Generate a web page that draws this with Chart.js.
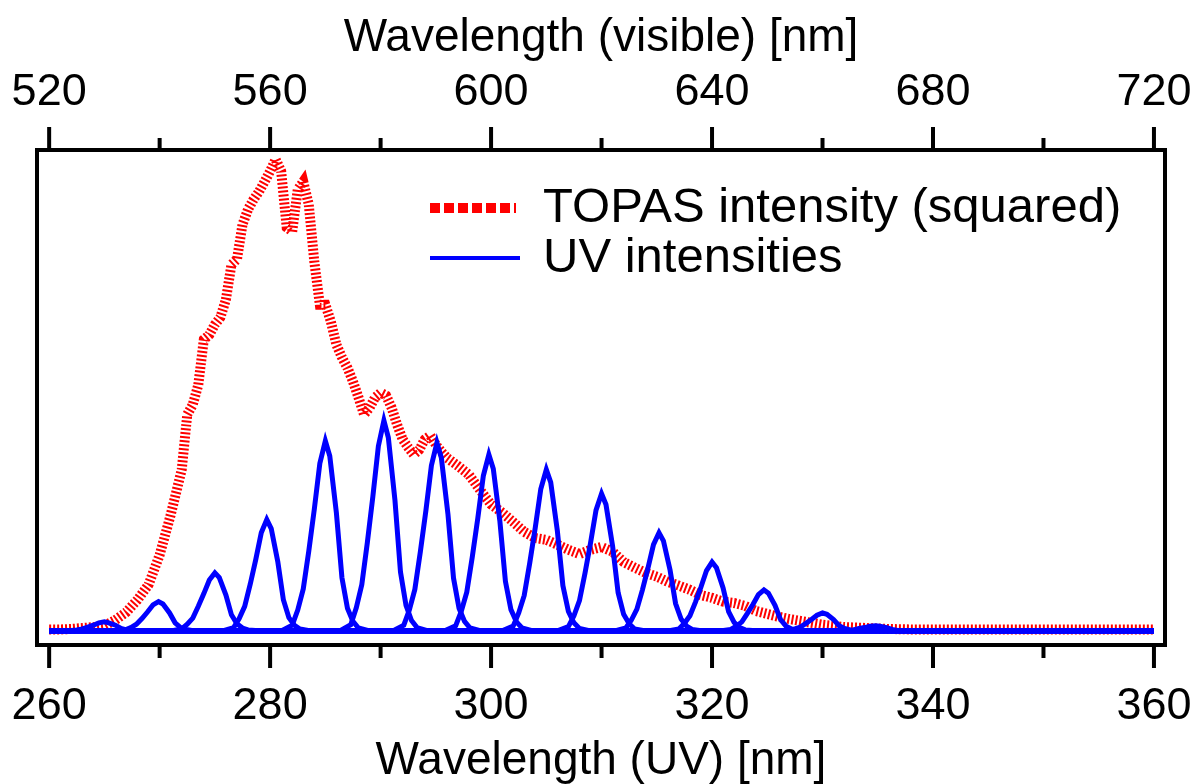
<!DOCTYPE html>
<html>
<head>
<meta charset="utf-8">
<script src="https://cdn.jsdelivr.net/npm/chart.js@4.4.0/dist/chart.umd.min.js"></script>
<style>
  html, body { margin: 0; padding: 0; background: #fff; }
  #wrap { width: 1196px; height: 784px; }
</style>
</head>
<body>
<div id="wrap"><canvas id="chart" width="1196" height="784"></canvas></div>
<script>
// axis ticks
const uvMajor = [260, 280, 300, 320, 340, 360];
const uvMinor = [270, 290, 310, 330, 350];
const visMajor = [520, 560, 600, 640, 680, 720];
const visMinor = [540, 580, 620, 660, 700];

// TOPAS spectrum (squared), arbitrary units, peak = 100
const topasWl = [260, 261, 262, 263, 264, 265, 266, 267, 268, 269, 270, 271, 272,
  272.5, 273, 273.5, 274, 274.5, 275, 275.5, 276, 276.5, 277, 277.5, 278, 278.5, 279, 279.5,
  280, 280.5, 281, 281.5, 282, 282.5, 283, 283.5, 284, 284.5, 285, 285.5, 286, 286.5, 287, 287.5,
  288, 288.5, 289, 289.5, 290, 290.5, 291, 291.5, 292, 292.5, 293, 293.5, 294, 294.5, 295, 295.5,
  296, 297, 298, 299, 300, 301, 302, 303, 304, 305, 306, 307, 308, 309, 310, 311, 312, 313, 314, 315,
  316, 317, 318, 319, 320, 321, 322, 323, 324, 325, 326, 327, 328, 329, 330,
  332, 334, 336, 338, 340, 344, 348, 352, 356, 360];
const topasVal = [0.3, 0.3, 0.4, 0.6, 0.8, 1.1, 2.3, 4.0, 6.6, 9.8, 16.1, 24.6, 34.2,
  45.9, 48.0, 52.2, 61.8, 62.8, 65.0, 66.5, 70.3, 77.7, 78.8, 86.2, 89.4, 91.5, 93.2, 95.3,
  97.5, 100, 97.5, 85.6, 84.7, 93.6, 95.3, 90.4, 78.3, 69.2, 69.2, 65.6, 60.7, 58.0, 55.8, 52.9,
  49.5, 45.9, 47.3, 49.5, 50.5, 49.9, 47.3, 43.7, 40.6, 38.9, 37.4, 38.4, 40.6, 41.4, 39.5, 38.0,
  36.7, 35.0, 33.1, 29.9, 26.8, 25.1, 23.1, 21.0, 19.7, 19.3, 18.3, 17.2, 16.3, 17.2, 17.8, 16.8, 14.6, 13.4, 12.3, 11.5,
  10.4, 9.6, 8.7, 7.6, 7.0, 6.2, 5.9, 5.3, 4.2, 3.6, 3.0, 2.5, 2.1, 1.7, 1.3,
  0.8, 0.6, 0.4, 0.3, 0.3, 0.3, 0.3, 0.3, 0.3, 0.3];

// UV spectra: peak centres and samples at fixed offsets (nm) around each centre
const uvCenters = [265, 269.9, 275, 279.7, 285, 290.3, 295.1, 299.8, 305, 310, 315.2, 320, 324.7, 330, 334.8];
const uvOffsets = [-4, -3, -2.5, -2, -1.5, -1, -0.5, 0, 0.4, 1, 1.5, 2, 2.5, 3, 4];
const uvPeaks = [
  [0, 0.1, 0.2, 0.4, 0.8, 1.2, 1.7, 1.9, 1.7, 1.2, 0.5, 0.2, 0.1, 0.0, 0],
  [0, 0.2, 0.7, 1.4, 2.6, 4.0, 5.5, 6.2, 5.7, 3.8, 1.7, 0.7, 0.3, 0.1, 0],
  [0, 0.4, 1.4, 2.7, 5.2, 7.9, 10.8, 12.3, 11.3, 7.6, 3.4, 1.5, 0.6, 0.2, 0],
  [0, 0.7, 2.6, 5.2, 9.9, 15.1, 20.8, 23.6, 21.7, 14.6, 6.6, 2.8, 1.2, 0.4, 0],
  [0, 1.2, 4.4, 8.9, 16.9, 25.8, 35.5, 40.3, 37.1, 25.0, 11.3, 4.8, 2.0, 0.6, 0],
  [0, 1.3, 4.9, 9.8, 18.7, 28.5, 39.2, 44.6, 41.0, 27.7, 12.5, 5.4, 2.2, 0.7, 0],
  [0, 1.2, 4.4, 8.8, 16.8, 25.5, 35.1, 39.9, 36.7, 24.7, 11.2, 4.8, 2.0, 0.6, 0],
  [0, 1.1, 4.1, 8.2, 15.7, 23.9, 32.9, 37.4, 34.4, 23.2, 10.5, 4.5, 1.9, 0.6, 0],
  [0, 1.0, 3.8, 7.5, 14.4, 21.9, 30.1, 34.2, 31.5, 21.2, 9.6, 4.1, 1.7, 0.5, 0],
  [0, 0.9, 3.2, 6.4, 12.2, 18.6, 25.6, 29.1, 26.8, 18.0, 8.1, 3.5, 1.5, 0.4, 0],
  [0, 0.6, 2.3, 4.6, 8.7, 13.3, 18.3, 20.8, 19.1, 12.9, 5.8, 2.5, 1.0, 0.3, 0],
  [0, 0.4, 1.6, 3.2, 6.1, 9.3, 12.8, 14.6, 13.4, 9.1, 4.1, 1.8, 0.7, 0.2, 0],
  [0, 0.3, 1.0, 1.9, 3.7, 5.6, 7.7, 8.7, 8.0, 5.4, 2.4, 1.0, 0.4, 0.1, 0],
  [0, 0.1, 0.4, 0.8, 1.6, 2.4, 3.3, 3.8, 3.5, 2.4, 1.1, 0.5, 0.2, 0.1, 0],
  [0, 0.0, 0.1, 0.2, 0.5, 0.7, 1.0, 1.1, 1.0, 0.7, 0.3, 0.1, 0.1, 0.0, 0]
];

const labelTopas = 'TOPAS intensity (squared)';
const labelUv = 'UV intensities';

const FONT = '"Liberation Sans", Arial, Helvetica, sans-serif';
const RED = '#ff0000';
const BLUE = '#0000ff';

const blueSets = uvPeaks.map((vals, i) => {
  const pts = [{ x: 260, y: 0 }];
  vals.forEach((v, j) => pts.push({ x: uvCenters[i] + uvOffsets[j], y: v }));
  pts.push({ x: 360, y: 0 });
  return {
    label: labelUv,
    data: pts,
    borderColor: BLUE,
    borderWidth: 5,
    pointRadius: 0,
    tension: 0,
    order: 1
  };
});

const redSet = {
  label: labelTopas,
  data: topasWl.map((w, i) => ({ x: w, y: topasVal[i] })),
  borderColor: RED,
  borderWidth: 10,
  borderDash: [2, 2],
  borderCapStyle: 'butt',
  pointRadius: 0,
  tension: 0,
  order: 2
};

// frame, outside tick marks and legend
const decor = {
  id: 'decor',
  afterDraw(chart) {
    const ctx = chart.ctx;
    const a = chart.chartArea;
    const xb = chart.scales.x;
    const xt = chart.scales.x2;
    ctx.save();
    ctx.strokeStyle = '#000';
    ctx.lineWidth = 4;
    ctx.setLineDash([]);
    ctx.strokeRect(a.left, a.top, a.right - a.left, a.bottom - a.top);

    const tick = (scale, v, y0, len) => {
      const px = scale.getPixelForValue(v);
      ctx.beginPath();
      ctx.moveTo(px, y0);
      ctx.lineTo(px, y0 + len);
      ctx.stroke();
    };
    uvMajor.forEach(v => tick(xb, v, a.bottom, 23));
    uvMinor.forEach(v => tick(xb, v, a.bottom, 13));
    visMajor.forEach(v => tick(xt, v, a.top, -23));
    visMinor.forEach(v => tick(xt, v, a.top, -12));

    // legend
    const lx = a.left + 393;
    ctx.lineWidth = 10;
    ctx.strokeStyle = RED;
    ctx.setLineDash([10, 4]);
    ctx.beginPath();
    ctx.moveTo(lx, a.top + 58);
    ctx.lineTo(lx + 86, a.top + 58);
    ctx.stroke();
    ctx.setLineDash([]);
    ctx.lineWidth = 4;
    ctx.strokeStyle = BLUE;
    ctx.beginPath();
    ctx.moveTo(lx, a.top + 108);
    ctx.lineTo(lx + 90, a.top + 108);
    ctx.stroke();

    ctx.fillStyle = '#000';
    ctx.font = '49px ' + FONT;
    ctx.textBaseline = 'middle';
    ctx.textAlign = 'left';
    ctx.fillText(labelTopas, lx + 113, a.top + 58);
    ctx.fillText(labelUv, lx + 113, a.top + 108);
    ctx.restore();
  }
};

const noPad = s => { s.paddingLeft = 0; s.paddingRight = 0; };

new Chart(document.getElementById('chart'), {
  type: 'line',
  data: { datasets: [...blueSets, redSet] },
  options: {
    responsive: false,
    animation: false,
    devicePixelRatio: 1,
    layout: { padding: { left: 37, right: 31, top: 0, bottom: 0 } },
    plugins: { legend: { display: false }, tooltip: { enabled: false } },
    scales: {
      x: {
        type: 'linear',
        position: 'bottom',
        min: 258.9,
        max: 361,
        afterBuildTicks: s => { s.ticks = uvMajor.map(v => ({ value: v })); },
        afterFit: s => { s.height = 139; noPad(s); },
        grid: { display: false, drawTicks: false },
        border: { display: false },
        ticks: { color: '#000', font: { family: FONT, size: 45 }, padding: 35, maxRotation: 0, autoSkip: false },
        title: { display: true, text: 'Wavelength (UV) [nm]', color: '#000', font: { family: FONT, size: 46, lineHeight: 1 }, padding: { top: 0, bottom: 0 } }
      },
      x2: {
        type: 'linear',
        position: 'top',
        min: 517.8,
        max: 722,
        afterBuildTicks: s => { s.ticks = visMajor.map(v => ({ value: v })); },
        afterFit: s => { s.height = 150; noPad(s); },
        grid: { display: false, drawTicks: false },
        border: { display: false },
        ticks: { color: '#000', font: { family: FONT, size: 45 }, padding: 30, maxRotation: 0, autoSkip: false },
        title: { display: true, text: 'Wavelength (visible) [nm]', color: '#000', font: { family: FONT, size: 46, lineHeight: 1 }, padding: { top: 15, bottom: 0 } }
      },
      y: {
        display: false,
        min: -3,
        max: 102
      }
    }
  },
  plugins: [decor]
});
</script>
</body>
</html>
